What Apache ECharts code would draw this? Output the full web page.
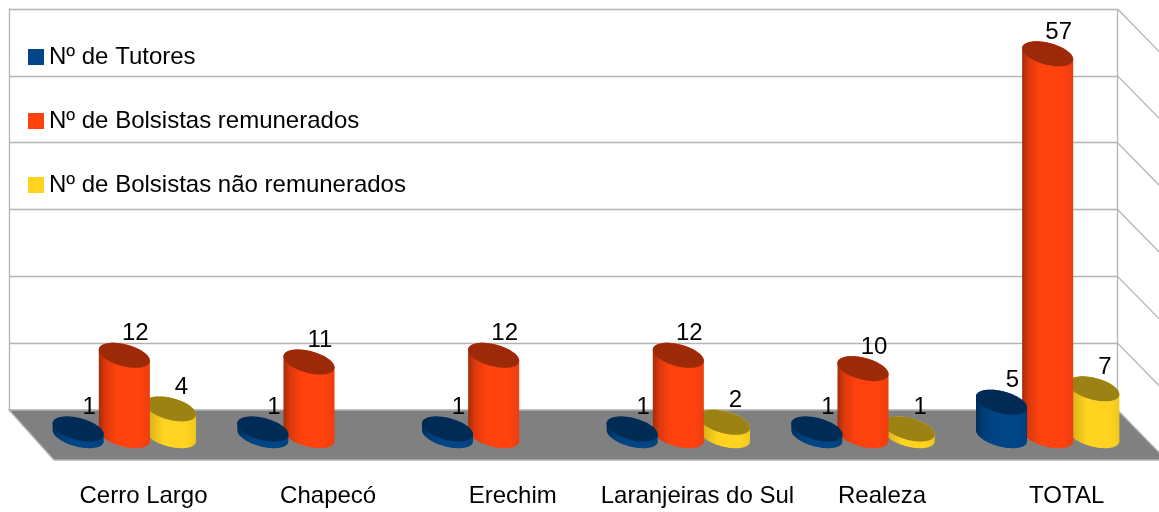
<!DOCTYPE html>
<html>
<head>
<meta charset="utf-8">
<style>html,body{margin:0;padding:0;background:#fff}#c{width:1159px;height:512px}</style>
<script src="https://cdn.jsdelivr.net/npm/echarts@6/dist/echarts.min.js"></script>
</head>
<body>
<div id="c"></div>
<script>
const categories = ['Cerro Largo', 'Chapecó', 'Erechim', 'Laranjeiras do Sul', 'Realeza', 'TOTAL'];
const tutores = [1, 1, 1, 1, 1, 5];
const remunerados = [12, 11, 12, 12, 10, 57];
const naoRemunerados = [4, null, null, 2, 1, 7];
const gridTicks = [10, 20, 30, 40, 50, 60];
const nameTutores = 'Nº de Tutores';
const nameRemunerados = 'Nº de Bolsistas remunerados';
const nameNao = 'Nº de Bolsistas não remunerados';

const FONT = '"Liberation Sans", Arial, sans-serif';
const GRID_COLOR = '#b3b3b3';
const DEPTH_L = [45, 50], DEPTH_R = [49, 50];

function ell(cx, cy, band, t) {
  const A = band * 0.124, C = band * 0.061, B = band * 0.0677;
  return [cx + A * Math.cos(t) + C * Math.sin(t), cy + B * Math.sin(t)];
}
function cylinder(colors) {
  return function (params, api) {
    const v = api.value(1);
    if (v == null || isNaN(v)) return null;
    const band = api.size([1, 0])[0];
    const top = api.coord([api.value(0), v]);
    const base = api.coord([api.value(0), 0]);
    const off = band * colors.offset;
    const cx = top[0] + off;
    const t0 = Math.atan2(0.061, 0.124);
    const N = 40;
    const body = [], cap = [];
    for (let i = 0; i <= N; i++) body.push(ell(cx, base[1], band, t0 + Math.PI * i / N));
    for (let i = 0; i <= N; i++) body.push(ell(cx, top[1], band, t0 + Math.PI + Math.PI * i / N));
    for (let i = 0; i < 2 * N; i++) cap.push(ell(cx, top[1], band, Math.PI * i / N));
    return {
      type: 'group',
      children: [
        { type: 'polygon', shape: { points: body }, style: {
            fill: new echarts.graphic.LinearGradient(0, 0, 1, 0, [
              { offset: 0, color: colors.edge },
              { offset: 0.13, color: colors.mid },
              { offset: 0.36, color: colors.base },
              { offset: 0.8, color: colors.base },
              { offset: 1, color: colors.right }
            ]) } },
        { type: 'polygon', shape: { points: cap }, style: { fill: colors.cap } },
        { type: 'text', style: { text: String(v), x: cx + 11, y: top[1] - 21.5, align: 'center',
            verticalAlign: 'middle', font: '24px ' + FONT, fill: '#000' } }
      ]
    };
  };
}
function bars(name, values, colors, z) {
  return {
    type: 'custom', name, xAxisIndex: 1, yAxisIndex: 1, z, clip: false,
    itemStyle: { color: colors.base },
    encode: { x: 0, y: 1 },
    data: values.map((v, i) => [i, v]),
    renderItem: cylinder(colors)
  };
}

const chart = echarts.init(document.getElementById('c'), null, { renderer: 'canvas' });
chart.setOption({
  animation: false,
  backgroundColor: '#fff',
  legend: {
    data: [nameTutores, nameRemunerados, nameNao],
    orient: 'vertical', left: 28, top: 44, itemWidth: 16, itemHeight: 16, itemGap: 38, padding: 0,
    selectedMode: false, icon: 'rect',
    textStyle: { fontFamily: FONT, fontSize: 24, color: '#000', padding: [0, 0, 0, 0], lineHeight: 26 },
    itemStyle: { borderWidth: 0 }
  },
  grid: [
    { left: 9, top: 9, width: 1108.5, height: 401 },
    { left: 32, top: 33.7, width: 1108, height: 402 },
    { left: 51.2, top: 60, width: 1113.6, height: 400 }
  ],
  xAxis: [
    { type: 'category', gridIndex: 0, data: categories, show: false },
    { type: 'category', gridIndex: 1, data: categories, show: false },
    { type: 'category', gridIndex: 2, data: categories,
      axisLine: { show: false }, axisTick: { show: false },
      axisLabel: { interval: 0, margin: 24, fontFamily: FONT, fontSize: 24, color: '#000' } }
  ],
  yAxis: [
    { type: 'value', gridIndex: 0, min: 0, max: 60, interval: 10,
      axisLine: { show: true, lineStyle: { color: GRID_COLOR, width: 1.3 } }, axisTick: { show: false }, axisLabel: { show: false },
      splitLine: { show: true, lineStyle: { color: GRID_COLOR, width: 1.3 } } },
    { type: 'value', gridIndex: 1, min: 0, max: 60, interval: 10, show: false, splitLine: { show: false } },
    { type: 'value', gridIndex: 2, min: 0, max: 60, interval: 10, show: false, splitLine: { show: false } }
  ],
  series: [
    { // right wall: back edge and diagonal grid lines
      type: 'custom', xAxisIndex: 0, yAxisIndex: 0, z: 1, silent: true, clip: false,
      data: gridTicks,
      encode: { y: 0 },
      renderItem(params, api) {
        const r = params.coordSys.x + params.coordSys.width;
        const y = api.coord([0, api.value(0)])[1];
        const y0 = api.coord([0, 0])[1];
        const style = { stroke: GRID_COLOR, lineWidth: 1.3, fill: null };
        const kids = [{ type: 'line', shape: { x1: r, y1: y, x2: r + DEPTH_R[0], y2: y + DEPTH_R[1] }, style }];
        if (params.dataIndex === 0) kids.push({ type: 'line', shape: { x1: r, y1: y0, x2: r, y2: params.coordSys.y }, style });
        return { type: 'group', children: kids };
      }
    },
    { // floor
      type: 'custom', xAxisIndex: 0, yAxisIndex: 0, z: 2, silent: true, clip: false,
      data: [0],
      encode: { y: 0 },
      renderItem(params, api) {
        const l = params.coordSys.x, r = l + params.coordSys.width;
        const y = api.coord([0, api.value(0)])[1];
        return { type: 'polygon', shape: { points: [
          [l, y], [r, y], [r + DEPTH_R[0], y + DEPTH_R[1]], [l + DEPTH_L[0], y + DEPTH_L[1]]
        ] }, style: { fill: '#808080', stroke: GRID_COLOR, lineWidth: 1.3 } };
      }
    },
    bars(nameNao, naoRemunerados, { base: '#ffd320', cap: '#9c8114', edge: '#a98c14', mid: '#e0b91c', right: '#f0c71e', offset: 0.25 }, 3),
    bars(nameRemunerados, remunerados, { base: '#ff420e', cap: '#9c2a08', edge: '#a32c09', mid: '#dc390c', right: '#ec3e0d', offset: 0 }, 4),
    bars(nameTutores, tutores, { base: '#004586', cap: '#002b55', edge: '#002d58', mid: '#003c74', right: '#003f7c', offset: -0.25 }, 5)
  ]
});
</script>
</body>
</html>
